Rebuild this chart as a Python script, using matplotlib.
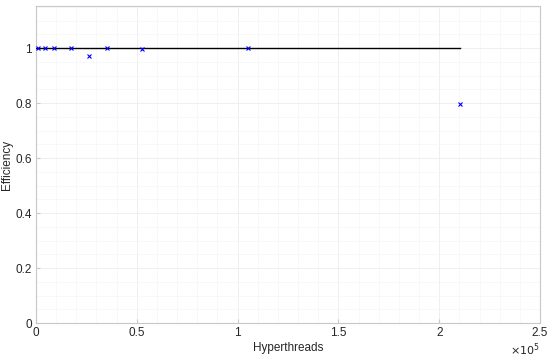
import matplotlib.pyplot as plt
import numpy as np
from matplotlib.ticker import AutoMinorLocator, FuncFormatter

# hyperthreads vs. parallel efficiency
threads = [876, 4380, 8760, 17520, 26280, 35040, 52560, 105120, 210240]
efficiency = [1.0, 1.0, 1.0, 1.0, 0.972, 1.0, 0.998, 1.0, 0.795]
ideal_x = [0, 210240]
ideal_y = [1, 1]

x_ticks = [0, 0.5e5, 1e5, 1.5e5, 2e5, 2.5e5]
y_ticks = [0, 0.2, 0.4, 0.6, 0.8, 1]

plt.rcParams['font.family'] = ['Liberation Sans', 'DejaVu Sans']

fig = plt.figure(figsize=(5.5, 3.61), dpi=100)
ax = fig.add_axes([36 / 550, 38 / 361, 504 / 550, 317 / 361])

ax.plot(ideal_x, ideal_y, color='black', linewidth=1.0, zorder=3)
ax.plot(threads, efficiency, linestyle='none', marker='x', color='blue',
        markersize=3.2, markeredgewidth=0.8, zorder=4)

ax.set_xlim(0, 2.5e5)
ax.set_ylim(0, 1.153)
ax.set_xticks(x_ticks)
ax.set_yticks(y_ticks)
ax.xaxis.set_major_formatter(FuncFormatter(lambda v, p: f"{v / 1e5:g}"))
ax.yaxis.set_major_formatter(FuncFormatter(lambda v, p: f"{v:g}"))
ax.xaxis.set_minor_locator(AutoMinorLocator(5))
ax.yaxis.set_minor_locator(AutoMinorLocator(4))

ax.grid(True, which='major', color='#ececec', linewidth=0.6)
ax.grid(True, which='minor', color='#f5f5f5', linewidth=0.5)
ax.set_axisbelow(True)

for s in ax.spines.values():
    s.set_color('#c8c8c8')
    s.set_linewidth(0.8)
ax.tick_params(which='both', direction='in', colors='#c8c8c8',
               labelcolor='#262626', labelsize=8.5, length=3, pad=3)
ax.tick_params(which='minor', length=0)

ax.set_xlabel('Hyperthreads', fontsize=8.5, color='#262626', labelpad=2)
ax.set_ylabel('Efficiency', fontsize=8.5, color='#262626')
ax.yaxis.set_label_coords(-0.045, 0.5)
ax.text(1.0, -0.058, r'$\times10^5$', transform=ax.transAxes, ha='right',
        va='top', fontsize=8, color='#262626')

fig.savefig('out.png', dpi=100)
